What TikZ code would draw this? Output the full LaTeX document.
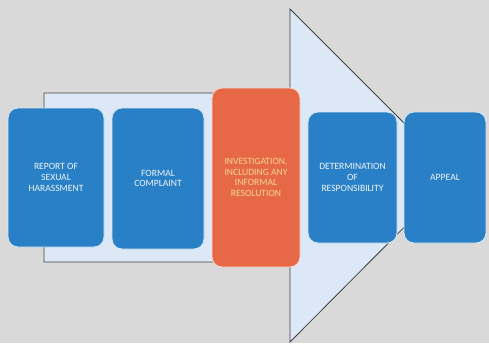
\documentclass[tikz,border=0pt]{standalone}
\usepackage{fontspec}
\setmainfont{Carlito}
\definecolor{bggray}{HTML}{D9D9D9}
\definecolor{arrowfill}{HTML}{DCE8F5}
\definecolor{stepblue}{HTML}{2A80C6}
\definecolor{steporange}{HTML}{E66846}
\definecolor{orangetext}{HTML}{F6D890}
\tikzset{
  stage/.style={rounded corners=10pt, fill=stepblue, draw=white!80!stepblue, line width=0.9pt,
    text=white!92!stepblue, align=center, font=\fontsize{9.6}{10.6}\selectfont, inner sep=2pt},
  current/.style={stage, fill=steporange, draw=white!75!steporange, text=orangetext}
}
\begin{document}
\begin{tikzpicture}[x=1pt,y=-1pt]
		\fill[bggray] (0,0) rectangle (489,343);
		\useasboundingbox (0,0) rectangle (489,343);
		
		% big process arrow behind the stages
		\draw[fill=arrowfill, draw=black!75, line width=0.8pt]
			(44,93) -- (290,93) -- (290,9) -- (456,175) -- (290,342) -- (290,262) -- (44,262) -- cycle;
		
		\node[stage, minimum width=96pt, minimum height=139pt] (R) at (56,177.5) {REPORT OF\\SEXUAL\\HARASSMENT};
		\node[stage, minimum width=92pt, minimum height=141pt] (F) at (158,178.5) {FORMAL\\COMPLAINT};
		\node[current, minimum width=88pt, minimum height=179pt] (I) at (256,177.5) {INVESTIGATION,\\INCLUDING ANY\\INFORMAL\\RESOLUTION};
		\node[stage, minimum width=89pt, minimum height=131pt] (D) at (352.5,177.5) {DETERMINATION\\OF\\RESPONSIBILITY};
		\node[stage, minimum width=82pt, minimum height=131pt] (A) at (445,177.5) {APPEAL};
		\end{tikzpicture}
\end{document}
